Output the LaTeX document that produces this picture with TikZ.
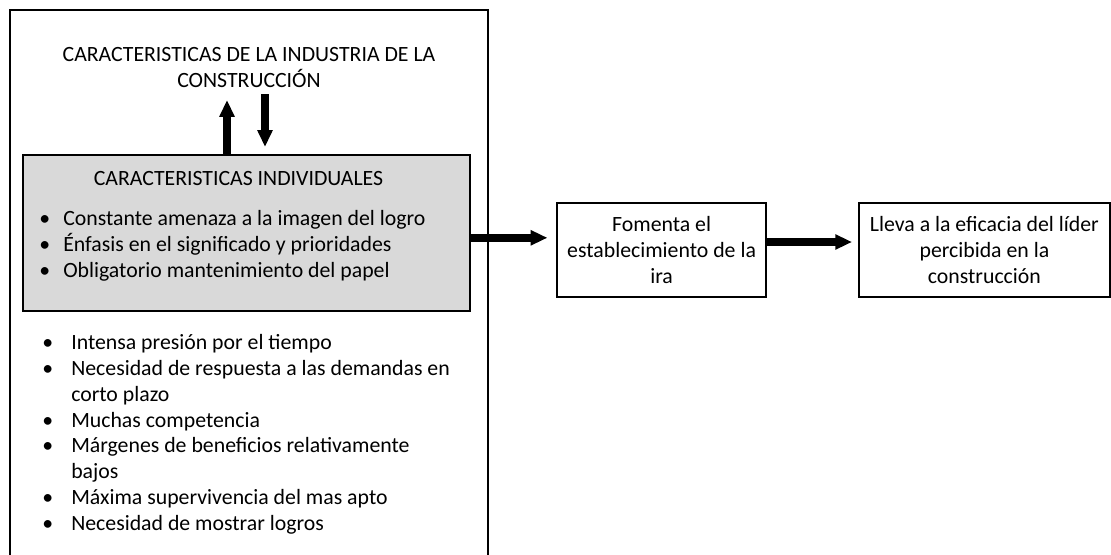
\documentclass[tikz,border=0pt]{standalone}
\usepackage{fontspec}
\setmainfont{Carlito}
\usetikzlibrary{arrows.meta,positioning}

\newcommand{\bigarrowtip}{Triangle[length=0.42cm,width=0.36cm]}
\newlength{\bulwidth}
\newcommand{\bul}{\makebox[\bulwidth][l]{\textbullet}}
\newcommand{\nobul}{\hspace*{\bulwidth}}

\begin{document}
\begin{tikzpicture}[
		box/.style={draw,line width=1.2pt,align=center,inner sep=2pt},
		bigarrow/.style={line width=0.2cm,-{\bigarrowtip}},
		itemlist/.style={anchor=north west,inner sep=0pt,align=left},
		every node/.style={font=\fontsize{15.5}{18.4}\selectfont}
	]
				\useasboundingbox (0,0) rectangle (27.775,-13.85);
				\draw[line width=1.2pt] (0.25,-14.2) -- (0.25,-0.25) -- (12.2,-0.25) -- (12.2,-14.2);
				\node[align=center] (industria) at (6.225,-1.68) {CARACTERISTICAS DE LA INDUSTRIA DE LA\\CONSTRUCCIÓN};
				\node[box,fill=black!15,minimum width=11.175cm,minimum height=3.9cm] (individual) at (6.1625,-5.825) {};
				\node[below=0.3cm of individual.north,xshift=-0.2cm] (indtitle) {CARACTERISTICAS INDIVIDUALES};
				\global\bulwidth=0.6cm
				\node[itemlist] (indlist) at (0.975,-5.25) {\bul Constante amenaza a la imagen del logro\\
					\bul Énfasis en el significado y prioridades\\
					\bul Obligatorio mantenimiento del papel};
				\global\bulwidth=0.725cm
				\node[itemlist] (indulist) at (1.05,-8.35) {\bul Intensa presión por el tiempo\\
					\bul Necesidad de respuesta a las demandas en\\
					\nobul corto plazo\\
					\bul Muchas competencia\\
					\bul Márgenes de beneficios relativamente\\
					\nobul bajos\\
					\bul Máxima supervivencia del mas apto\\
					\bul Necesidad de mostrar logros};
				\node[box,minimum width=5.225cm,minimum height=2.35cm] (ira) at (16.54,-6.25) {Fomenta el\\establecimiento de la\\ira};
				\node[box,minimum width=6.275cm,minimum height=2.35cm] (lider) at (24.61,-6.25) {Lleva a la eficacia del líder\\percibida en la\\construcción};
				\coordinate (uptip) at (5.675,-2.5);
				\coordinate (downstart) at (6.625,-2.35);
				\draw[bigarrow] (individual.north -| uptip) -- (uptip);
				\draw[bigarrow] (downstart) -- ([yshift=0.18cm]individual.north -| downstart);
				\draw[bigarrow,shorten >=0.22cm] ([yshift=-0.12cm]individual.east) -- ([yshift=-0.12cm]individual.east -| ira.west);
				\draw[bigarrow,shorten >=0.15cm] ([yshift=0.2cm]ira.east) -- ([yshift=0.2cm]lider.west);
			\end{tikzpicture}
\end{document}
